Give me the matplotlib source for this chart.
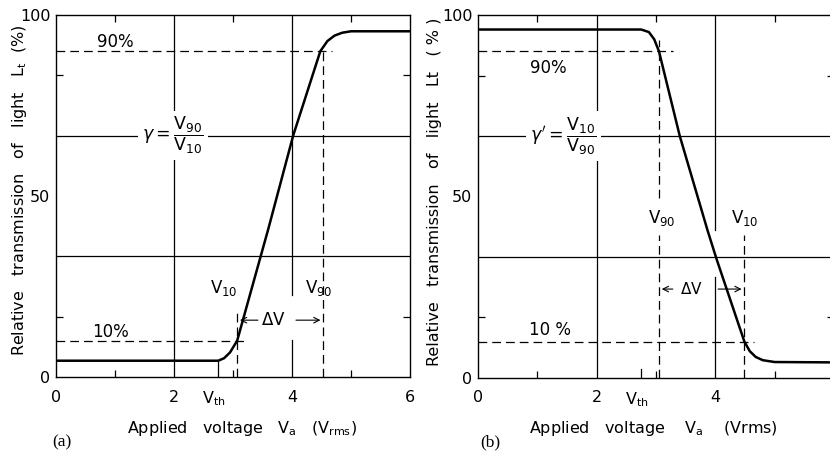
import matplotlib.pyplot as plt

plt.rcParams['font.family'] = ['DejaVu Sans']
plt.rcParams['mathtext.fontset'] = 'dejavusans'

# curve (a): transmission rises with voltage
a_volt = [0.0, 2.75, 2.85, 2.95, 3.07, 3.6, 4.02, 4.48, 4.6, 4.72, 4.85, 5.0, 6.0]
a_trans = [4.5, 4.5, 5.2, 6.8, 10.0, 41.0, 66.7, 90.0, 92.8, 94.3, 95.1, 95.5, 95.5]

# curve (b): transmission falls with voltage
b_volt = [0.0, 2.75, 2.88, 2.97, 3.05, 3.40, 3.87, 4.02, 4.49, 4.58, 4.68, 4.8, 5.0, 6.0]
b_trans = [96.0, 96.0, 95.3, 93.3, 90.0, 66.7, 40.6, 32.8, 10.0, 7.4, 5.8, 4.9, 4.4, 4.3]

# characteristic voltages
a_v10, a_v90, a_vth = 3.07, 4.53, 2.75
b_v90, b_v10, b_vth = 3.05, 4.49, 2.75

xticks = [0, 2, 2.67, 4, 6]
xtick_labels = ['0', '2', r'V$_{\mathregular{th}}$', '4', '6']
yticks = [0, 50, 100]
grid_y = [33.3, 66.7]

W, H = 830, 453
fig = plt.figure(figsize=(W / 100, H / 100), dpi=100)
ax_a = fig.add_axes([56 / W, (H - 377) / H, 354 / W, 362 / H])
ax_b = fig.add_axes([478 / W, (H - 378) / H, 356 / W, 363 / H])

dash = (0, (7, 4))
grid_kw = dict(color='black', lw=0.9, zorder=1)


def setup(ax, top_minor):
    ax.set_xlim(0, 6)
    ax.set_ylim(0, 100)
    for s in ax.spines.values():
        s.set_linewidth(1.0)
    ax.set_xticks(xticks)
    ax.set_xticklabels(xtick_labels)
    ax.set_yticks(yticks)
    ax.set_xticks([1, 3, 5], minor=True)
    ax.set_yticks([16.7, 50, 83.3], minor=True)
    ax.tick_params(which='major', length=0, labelsize=11.5, pad=9)
    ax.tick_params(axis='y', which='major', pad=4)
    ax.tick_params(which='minor', direction='in', length=5, width=0.9,
                   top=True, right=True)
    # short tick marks on the top edge
    for x in top_minor:
        ax.plot([x, x], [98.5, 100], color='black', lw=0.9)
    for y in grid_y:
        ax.axhline(y, **grid_kw)


# ---------- panel (a) ----------
ax = ax_a
setup(ax, [])
ax.axvline(2, **grid_kw)
ax.plot([4, 4], [0, 10.2], **grid_kw)
ax.plot([4, 4], [22.6, 100], **grid_kw)
ax.plot(a_volt, a_trans, color='black', lw=1.8, zorder=3)
ax.plot([0, 4.67], [90, 90], color='black', lw=0.9, ls=dash, zorder=2)
ax.plot([0, 3.23], [10, 10], color='black', lw=0.9, ls=dash, zorder=2)
ax.plot([a_v90, a_v90], [0, 90], color='black', lw=0.9, ls=dash, zorder=2)
ax.plot([a_v10, a_v10], [0, 18.8], color='black', lw=0.9, ls=dash, zorder=2)
ax.plot([a_vth, a_vth], [0, 4.5], color='black', lw=0.9, zorder=2)
ax.text(1.0, 92.5, '90%', fontsize=12, ha='center', va='center')
ax.text(0.92, 12.5, '10%', fontsize=12, ha='center', va='center')
ax.text(1.98, 66.7, r'$\gamma = \dfrac{\mathrm{V}_{90}}{\mathrm{V}_{10}}$',
        fontsize=12.5, ha='center', va='center', zorder=4,
        bbox=dict(fc='white', ec='none', pad=3))
ax.text(3.07, 24.5, r'V$_{\mathregular{10}}$', fontsize=12, ha='right', va='center')
ax.text(4.45, 24.5, r'V$_{\mathregular{90}}$', fontsize=12, ha='center', va='center')
ax.text(3.68, 15.7, r'$\Delta$V', fontsize=12, ha='center', va='center')
ax.annotate('', xy=(a_v10, 15.7), xytext=(3.47, 15.7),
            arrowprops=dict(arrowstyle='->', lw=0.8, color='black'))
ax.annotate('', xy=(a_v90, 15.7), xytext=(4.02, 15.7),
            arrowprops=dict(arrowstyle='->', lw=0.8, color='black'))

# ---------- panel (b) ----------
ax = ax_b
setup(ax, [])
ax.axvline(2, **grid_kw)
ax.plot([4, 4], [0, 27.8], **grid_kw)
ax.plot([4, 4], [40.8, 100], **grid_kw)
ax.plot(b_volt, b_trans, color='black', lw=1.8, zorder=3)
ax.plot([0, 3.29], [90, 90], color='black', lw=0.9, ls=dash, zorder=2)
ax.plot([0, 4.66], [10, 10], color='black', lw=0.9, ls=dash, zorder=2)
ax.plot([b_v90, b_v90], [0, 39.4], color='black', lw=0.9, ls=dash, zorder=2)
ax.plot([b_v90, b_v90], [49.5, 93], color='black', lw=0.9, ls=dash, zorder=2)
ax.plot([b_v10, b_v10], [0, 39.4], color='black', lw=0.9, ls=dash, zorder=2)
ax.plot([b_vth, b_vth], [0, 2.5], color='black', lw=0.9, zorder=2)
ax.text(1.19, 85.4, '90%', fontsize=12, ha='center', va='center')
ax.text(1.22, 13.2, '10 %', fontsize=12, ha='center', va='center')
ax.text(1.44, 66.6, r"$\gamma' = \dfrac{\mathrm{V}_{10}}{\mathrm{V}_{90}}$",
        fontsize=12.5, ha='center', va='center', zorder=4,
        bbox=dict(fc='white', ec='none', pad=3))
ax.text(3.1, 44, r'V$_{\mathregular{90}}$', fontsize=12, ha='center', va='center')
ax.text(4.5, 44, r'V$_{\mathregular{10}}$', fontsize=12, ha='center', va='center')
ax.text(3.59, 24.5, r'$\Delta$V', fontsize=11, ha='center', va='center')
ax.annotate('', xy=(b_v90, 24.5), xytext=(3.33, 24.5),
            arrowprops=dict(arrowstyle='->', lw=0.8, color='black'))
ax.annotate('', xy=(b_v10, 24.5), xytext=(4.0, 24.5),
            arrowprops=dict(arrowstyle='->', lw=0.8, color='black'))

# axis titles and panel tags
fig.text(20 / W, 1 - 190 / H,
         r'Relative   transmission   of   light   L$_{\mathregular{t}}$  (%)',
         rotation=90, fontsize=11.5, ha='center', va='center')
fig.text(434 / W, 1 - 192 / H,
         'Relative   transmission   of   light   Lt   ( % )',
         rotation=90, fontsize=11.5, ha='center', va='center')
fig.text(242 / W, 1 - 428 / H,
         r'Applied   voltage   V$_{\mathregular{a}}$   (V$_{\mathregular{rms}}$)',
         fontsize=11.5, ha='center', va='center')
fig.text(653 / W, 1 - 428 / H,
         r'Applied   voltage    V$_{\mathregular{a}}$    (Vrms)',
         fontsize=11.5, ha='center', va='center')
fig.text(62 / W, 1 - 442 / H, '(a)', family='Liberation Serif', fontsize=12.5,
         ha='center', va='center')
fig.text(490 / W, 1 - 442 / H, '(b)', family='Liberation Serif', fontsize=12.5,
         ha='center', va='center')

fig.savefig('out.png', dpi=100)
